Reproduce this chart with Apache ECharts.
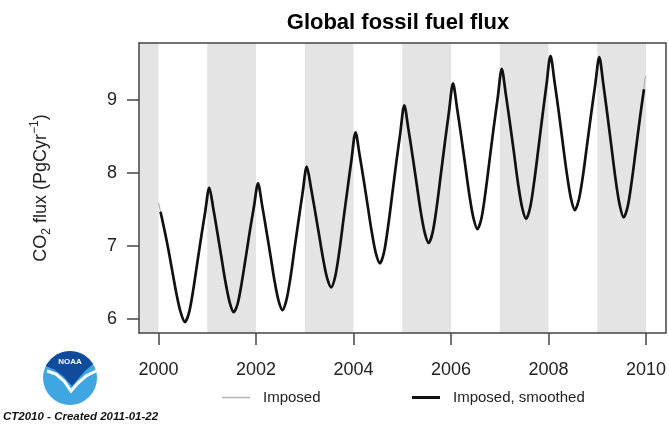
<!DOCTYPE html>
<html><head><meta charset="utf-8">
<script src="https://cdn.jsdelivr.net/npm/echarts@6/dist/echarts.min.js"></script>
<style>html,body{margin:0;padding:0;background:#fff}#c{width:669px;height:426px}</style>
</head><body><div id="c"></div>
<script>
// ---- data ----
const xTicks = [2000, 2002, 2004, 2006, 2008, 2010];
const yTicks = [6, 7, 8, 9];
const bandStart = [1999.6, 2001, 2003, 2005, 2007, 2009];
const bandEnd   = [2000, 2002, 2004, 2006, 2008, 2010];
const years = [2000, 2001, 2002, 2003, 2004, 2005, 2006, 2007, 2008, 2009];
// monthly smoothed flux, Jan..Dec (PgC/yr)
const flux2000 = [7.47, 7.21, 6.93, 6.62, 6.32, 6.08, 5.955, 6.08, 6.38, 6.75, 7.12, 7.47];
const flux2001 = [7.80, 7.51, 7.18, 6.84, 6.50, 6.23, 6.09, 6.21, 6.50, 6.85, 7.21, 7.54];
const flux2002 = [7.86, 7.56, 7.23, 6.89, 6.54, 6.26, 6.12, 6.26, 6.57, 6.97, 7.36, 7.74];
const flux2003 = [8.09, 7.81, 7.49, 7.16, 6.83, 6.56, 6.43, 6.58, 6.92, 7.35, 7.77, 8.18];
const flux2004 = [8.56, 8.25, 7.91, 7.55, 7.19, 6.90, 6.76, 6.91, 7.26, 7.69, 8.13, 8.54];
const flux2005 = [8.93, 8.61, 8.25, 7.87, 7.49, 7.19, 7.04, 7.19, 7.54, 7.98, 8.42, 8.84];
const flux2006 = [9.23, 8.89, 8.51, 8.11, 7.71, 7.39, 7.23, 7.38, 7.74, 8.18, 8.62, 9.03];
const flux2007 = [9.43, 9.08, 8.69, 8.28, 7.86, 7.53, 7.37, 7.53, 7.89, 8.33, 8.78, 9.21];
const flux2008 = [9.61, 9.25, 8.85, 8.42, 8.00, 7.66, 7.49, 7.64, 7.97, 8.39, 8.81, 9.21];
const flux2009 = [9.59, 9.22, 8.80, 8.36, 7.92, 7.57, 7.39, 7.54, 7.89, 8.32, 8.75, 9.15];
// unsmoothed ("Imposed") values visible only at the ends
const imposedStart = [[2000.0, 7.59], [2000.035, 7.59]];
const imposedEnd = [[2009.975, 9.28], [2010.0, 9.33]];

const fluxByYear = [flux2000, flux2001, flux2002, flux2003, flux2004,
                    flux2005, flux2006, flux2007, flux2008, flux2009];
const smoothedData = [];
years.forEach((y, i) => {
  fluxByYear[i].forEach((v, m) => smoothedData.push([y + (m + 0.5) / 12, v]));
});
const imposedData = imposedStart.concat(smoothedData, imposedEnd);
const bands = bandStart.map((s, i) => [{xAxis: s}, {xAxis: bandEnd[i]}]);

const FONT = 'Liberation Sans';
const axisCol = '#444';
const chart = echarts.init(document.getElementById('c'), null, {renderer: 'canvas'});
const boxLine = {show: true, onZero: false, lineStyle: {color: axisCol, width: 1.5}};
const legendText = {fontFamily: FONT, fontSize: 15, color: '#222', padding: [0, 0, 0, 8]};

chart.setOption({
  animation: false,
  backgroundColor: '#fff',
  title: {
    text: 'Global fossil fuel flux', left: 393, top: 7, textAlign: 'center',
    textStyle: {fontFamily: FONT, fontWeight: 'bold', fontSize: 22, color: '#000'}
  },
  legend: [
    {data: [{name: 'Imposed', icon: 'rect', itemStyle: {color: '#b4b4b4'}}],
     left: 222, top: 390, padding: 0, itemWidth: 28, itemHeight: 1.5, textStyle: legendText},
    {data: [{name: 'Imposed, smoothed', icon: 'rect', itemStyle: {color: '#111'}}],
     left: 412, top: 390, padding: 0, itemWidth: 28, itemHeight: 3, textStyle: legendText}
  ],
  grid: {left: 139, right: 3, top: 43, bottom: 93},
  xAxis: [
    {type: 'value', min: 1999.6, max: 2010.4, position: 'bottom', z: 10,
     axisLine: boxLine,
     axisTick: {show: true, length: 12, customValues: xTicks, lineStyle: {color: axisCol, width: 1.5}},
     axisLabel: {customValues: xTicks, margin: 28, fontSize: 18, color: '#222', fontFamily: FONT,
                 formatter: v => String(v)},
     splitLine: {show: false}},
    {type: 'value', min: 1999.6, max: 2010.4, position: 'top', z: 10,
     axisLine: boxLine, axisTick: {show: false}, axisLabel: {show: false}, splitLine: {show: false}}
  ],
  yAxis: [
    {type: 'value', min: 5.805, max: 9.785, position: 'left', z: 10,
     axisLine: boxLine,
     axisTick: {show: true, length: 12, customValues: yTicks, lineStyle: {color: axisCol, width: 1.5}},
     axisLabel: {customValues: yTicks, margin: 22, fontSize: 18, color: '#222', fontFamily: FONT,
                 formatter: v => String(v)},
     splitLine: {show: false}},
    {type: 'value', min: 5.805, max: 9.785, position: 'right', z: 10,
     axisLine: boxLine, axisTick: {show: false}, axisLabel: {show: false}, splitLine: {show: false}}
  ],
  series: [
    {name: 'Imposed', type: 'line', data: imposedData, symbol: 'none', z: 2,
     lineStyle: {color: '#b4b4b4', width: 1.3}, itemStyle: {color: '#b4b4b4'},
     markArea: {silent: true, itemStyle: {color: '#e4e4e4'}, data: bands}},
    {name: 'Imposed, smoothed', type: 'line', data: smoothedData, symbol: 'none', z: 3, smooth: 0.3,
     lineStyle: {color: '#111', width: 2.7}, itemStyle: {color: '#111'}}
  ],
  graphic: [
    {type: 'text', x: 41, y: 188, rotation: Math.PI / 2,
     style: {text: 'CO{sub|2} flux (PgCyr{sup|−1})', fontFamily: FONT, fontSize: 18, lineHeight: 24,
             fill: '#222', align: 'center', verticalAlign: 'middle',
             rich: {sub: {fontSize: 12, lineHeight: 12, verticalAlign: 'bottom', fontFamily: FONT, fill: '#222'},
                    sup: {fontSize: 12, lineHeight: 12, verticalAlign: 'top', fontFamily: FONT, fill: '#222'}}}},
    {type: 'circle', shape: {cx: 70, cy: 378, r: 27}, style: {fill: '#3fa6e2'}},
    {type: 'polygon',
     shape: {points: [[45.8, 366], [46.6, 364.5], [50.9, 358.9], [56.5, 354.6], [63, 351.9], [70, 351],
                      [77, 351.9], [83.5, 354.6], [89.1, 358.9], [93.1, 364], [85, 371], [78, 379],
                      [72, 386], [64, 377], [55, 370]]},
     style: {fill: '#114b9b'}},
    {type: 'polyline',
     shape: {points: [[47, 371], [56, 374], [64, 381], [71, 391], [78, 383], [86, 376], [96, 371]]},
     style: {stroke: '#fff', lineWidth: 3, fill: null}},
    {type: 'text', x: 70, y: 362,
     style: {text: 'NOAA', fontFamily: FONT, fontSize: 8, fontWeight: 'bold', fill: '#fff',
             align: 'center', verticalAlign: 'middle'}},
    {type: 'text', x: 3, y: 417,
     style: {text: 'CT2010 - Created 2011-01-22', fontFamily: FONT, fontSize: 11.5, fontWeight: 'bold',
             fontStyle: 'italic', fill: '#111', align: 'left', verticalAlign: 'middle'}}
  ]
});
</script></body></html>
